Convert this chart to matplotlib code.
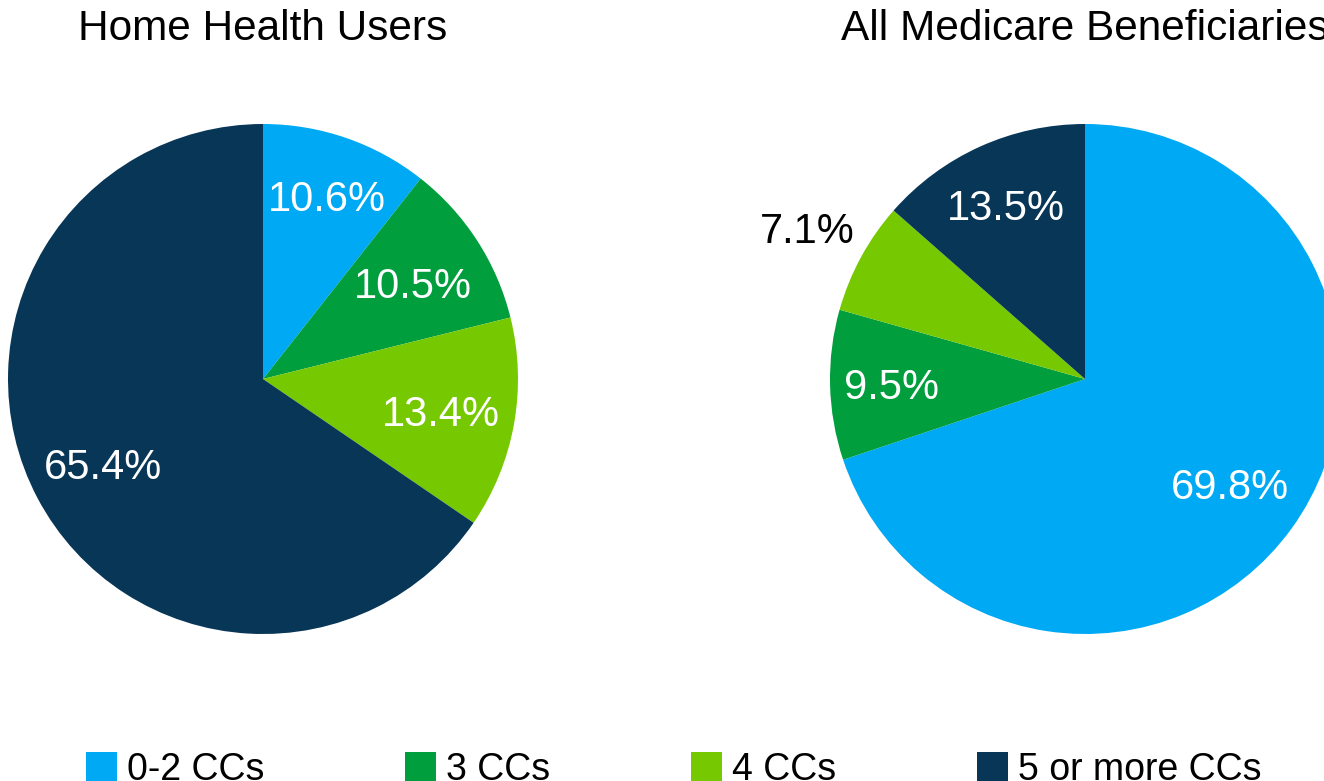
import numpy as np
from matplotlib import pyplot, rc

rc('font', family=['Liberation Sans', 'DejaVu Sans'])

categories = ['0-2 CCs', '3 CCs', '4 CCs', '5 or more CCs']
home_health = [10.6, 10.5, 13.4, 65.4]
all_medicare = [69.8, 9.5, 7.1, 13.5]
titles = ['Home Health Users', 'All Medicare Beneficiaries']

colors = ['#00A9F4', '#009E3D', '#76C800', '#083656']

# label distance (fraction of radius) and colour for each slice
home_dist = [0.76, 0.70, 0.71, 0.71]
medicare_dist = [0.70, 0.76, 1.24, 0.75]
home_text = ['white'] * 4
medicare_text = ['white', 'white', 'black', 'white']

W, H = 1324, 781
figure = pyplot.figure(figsize=(W / 100, H / 100), dpi=100)

R = 255.0     # pie radius in pixels
span = 1.3    # axes half-width in data units


def add_pie(cx, cy, values, dists, tcolors, title):
    side = 2 * span * R
    ax = figure.add_axes([(cx - side / 2) / W, 1 - (cy + side / 2) / H,
                          side / W, side / H])
    wedges, _ = ax.pie(values, colors=colors, startangle=90,
                       counterclock=False,
                       wedgeprops=dict(linewidth=0))
    ax.set_xlim(-span, span)
    ax.set_ylim(-span, span)
    ax.set_aspect('equal')
    for w, v, d, c in zip(wedges, values, dists, tcolors):
        ang = np.deg2rad((w.theta1 + w.theta2) / 2)
        ax.text(d * np.cos(ang), d * np.sin(ang), '{:.1f}%'.format(v),
                ha='center', va='center_baseline', fontsize=30, color=c)
    figure.text(cx / W, 1 - 29 / H, title, ha='center', va='center',
                fontsize=30.5)
    return wedges


wedges = add_pie(263, 379, home_health, home_dist, home_text, titles[0])
add_pie(1085, 379, all_medicare, medicare_dist, medicare_text, titles[1])

figure.legend(wedges, categories, loc='center', ncol=4,
              bbox_to_anchor=(674 / W, 1 - 770 / H), frameon=False,
              fontsize=27, handlelength=0.83, handleheight=0.83,
              handletextpad=0.27, columnspacing=3.75, borderpad=0)

figure.savefig('out.png', dpi=100)
